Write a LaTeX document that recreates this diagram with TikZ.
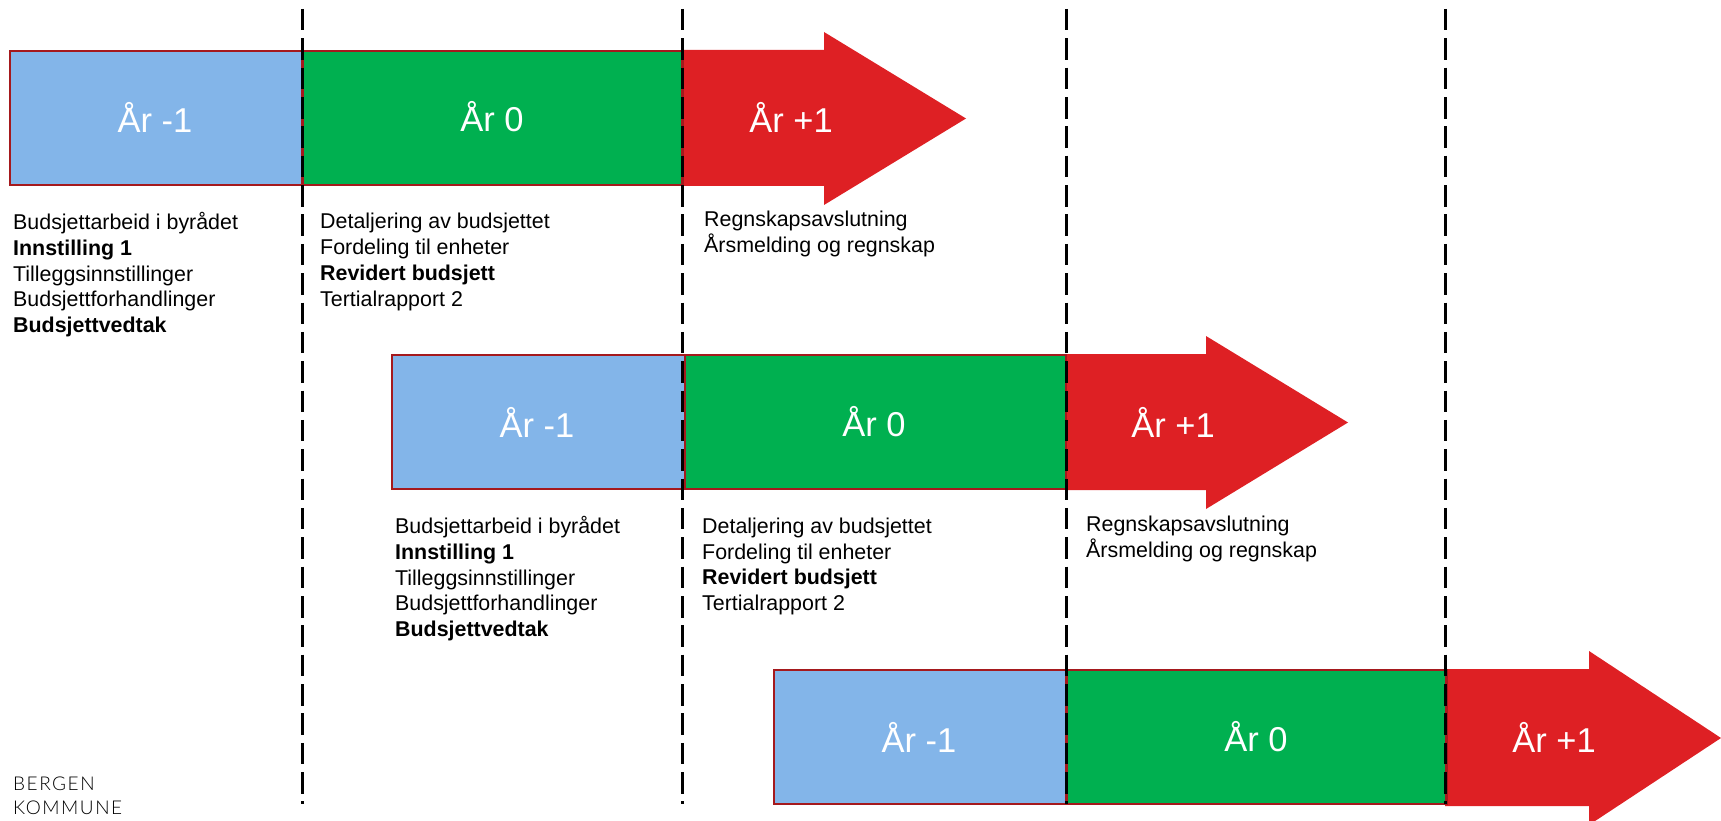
\documentclass[tikz,border=0pt]{standalone}
\usepackage{fontspec}
\setmainfont{Liberation Sans}
\newfontfamily\logofont[LetterSpace=8]{Lato Light}
\definecolor{barblue}{HTML}{83B5E9}
\definecolor{bargreen}{HTML}{00B050}
\definecolor{barred}{HTML}{DE2024}
\definecolor{barline}{HTML}{A5191D}
\tikzset{
  x=1pt,y=-1pt,
  yearbox/.style={draw=barline,line width=2.6pt,minimum height=134pt,inner sep=0pt,outer sep=0pt,anchor=north west,text=white},
  bluebox/.style={yearbox,fill=barblue,minimum width=292.5pt},
  greenbox/.style={yearbox,fill=bargreen,minimum width=380pt},
  redarrow/.style={fill=barred,draw=none},
  yearlabel/.style={text=white,font=\fontsize{34.5}{40}\selectfont,inner sep=0pt},
  infotext/.style={anchor=north west,align=left,inner sep=0pt,font=\fontsize{21.4}{25.8}\selectfont},
  divider/.style={draw=black,line width=3pt,dash pattern=on 21.5pt off 7.85pt},
  logotext/.style={anchor=base west,inner sep=0pt,text=black,font=\fontsize{19}{19}\logofont}
}
\newcommand{\budgettext}{Budsjettarbeid i byrådet\\\textbf{Innstilling 1}\\Tilleggsinnstillinger\\Budsjettforhandlinger\\\textbf{Budsjettvedtak}}
\newcommand{\detailtext}{Detaljering av budsjettet\\Fordeling til enheter\\\textbf{Revidert budsjett}\\Tertialrapport 2}
\newcommand{\accounttext}{Regnskapsavslutning\\Årsmelding og regnskap}
\begin{document}
\begin{tikzpicture}
\useasboundingbox (0,0) rectangle (1721,821);
% row 1
\fill[redarrow] (682,50) -- (824,50) -- (824,32) -- (966,118.5) -- (824,205) -- (824,186) -- (682,186) -- cycle;
\node[bluebox] (a1) at (10,51) {};
\node[greenbox] (b1) at (302.5,51) {};
\node[yearlabel] (la1) at (155,117) {År -1};
\node[yearlabel] (lb1) at (492,117) {År 0};
\node[yearlabel] (lc1) at (791,117) {År +1};
% row 2
\fill[redarrow] (1066,354) -- (1206,354) -- (1206,336) -- (1348,422.5) -- (1206,509) -- (1206,490) -- (1066,490) -- cycle;
\node[bluebox,minimum width=293pt] (a2) at (392,355) {};
\node[greenbox,minimum width=381pt] (b2) at (685,355) {};
\node[yearlabel] (la2) at (537,422) {År -1};
\node[yearlabel] (lb2) at (874,422) {År 0};
\node[yearlabel] (lc2) at (1173,422) {År +1};
% row 3
\fill[redarrow] (1445,669) -- (1589,669) -- (1589,651) -- (1721,738) -- (1589,825) -- (1589,806) -- (1445,806) -- cycle;
\node[bluebox] (a3) at (774,670) {};
\node[greenbox,minimum width=380pt] (b3) at (1066.5,670) {};
\node[yearlabel] (la3) at (919,737) {År -1};
\node[yearlabel] (lb3) at (1256,737) {År 0};
\node[yearlabel] (lc3) at (1554,737) {År +1};
% texts
\node[infotext] (t11) at (13,212) {\budgettext};
\node[infotext] (t12) at (320,213) {\detailtext};
\node[infotext] (t13) at (704,211) {\accounttext};
\node[infotext] (t21) at (395,516) {\budgettext};
\node[infotext] (t22) at (702,517.5) {\detailtext};
\node[infotext] (t23) at (1086,516) {\accounttext};
% dividers
\foreach \n/\x in {d1/302.7,d2/682.7,d3/1066,d4/1445.5}{
  \coordinate (\n s) at (\x,9);
  \coordinate (\n e) at (\x,803.5);
  \draw[divider] (\n s) -- (\n e);
}
% logo
\node[logotext] (logo1) at (13,790.5) {BERGEN};
\node[logotext] (logo2) at (13,814) {KOMMUNE};
\end{tikzpicture}
\end{document}
